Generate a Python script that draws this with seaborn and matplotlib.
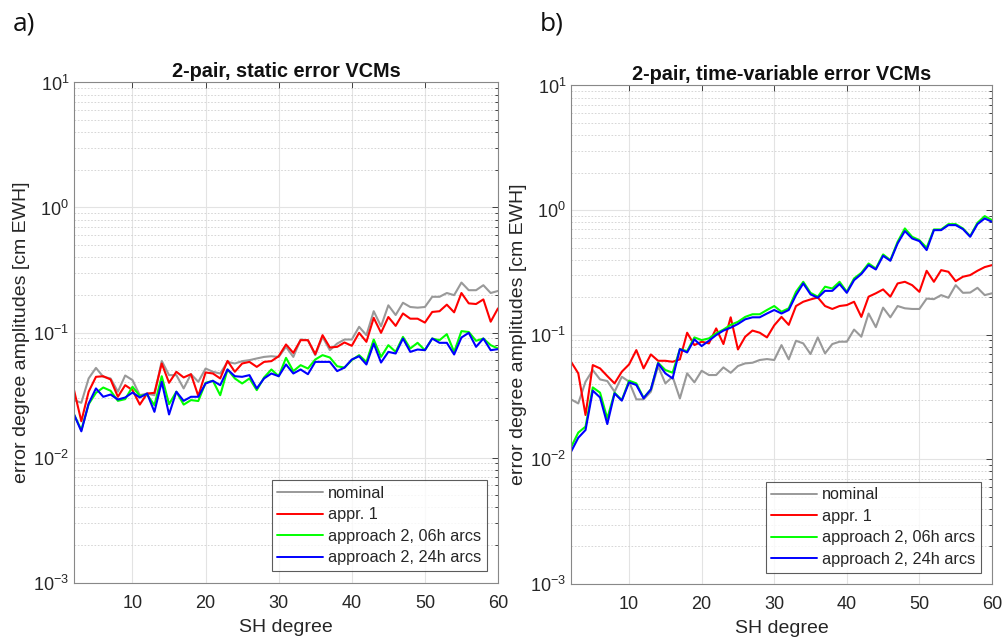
import numpy as np
import pandas as pd
import matplotlib
matplotlib.use("Agg")
import matplotlib.pyplot as plt
import seaborn as sns
from matplotlib.ticker import LogLocator, NullFormatter, FixedLocator

degrees = list(range(2, 61))

# panel a) static error VCMs
static_nominal = [0.0288, 0.0274, 0.0429, 0.0521, 0.0442, 0.0429, 0.0336, 0.0453, 0.0416, 0.0315,
                  0.0325, 0.0315, 0.0593, 0.0456, 0.0456, 0.0357, 0.0464, 0.0403, 0.0515, 0.0485,
                  0.0470, 0.0582, 0.0565, 0.0590, 0.0601, 0.0620, 0.0638, 0.0646, 0.0638, 0.0768,
                  0.0638, 0.0879, 0.0868, 0.0659, 0.0923, 0.0722, 0.0816, 0.0879, 0.0879, 0.111,
                  0.0952, 0.148, 0.112, 0.165, 0.138, 0.173, 0.160, 0.158, 0.160, 0.193,
                  0.193, 0.207, 0.199, 0.251, 0.218, 0.218, 0.239, 0.207, 0.215]
static_appr1 = [0.0346, 0.0195, 0.0336, 0.0442, 0.0447, 0.0421, 0.0306, 0.0379, 0.0346, 0.0265,
                0.0325, 0.0329, 0.0565, 0.0396, 0.0485, 0.0437, 0.0464, 0.0311, 0.0479, 0.0470,
                0.0429, 0.0593, 0.0485, 0.0565, 0.0582, 0.0531, 0.0582, 0.0590, 0.0646, 0.0802,
                0.0687, 0.0868, 0.0868, 0.0671, 0.0952, 0.0759, 0.0768, 0.0832, 0.0783, 0.0994,
                0.0842, 0.131, 0.0994, 0.133, 0.113, 0.142, 0.129, 0.129, 0.120, 0.146,
                0.148, 0.167, 0.145, 0.207, 0.171, 0.169, 0.184, 0.122, 0.156]
static_a2_06h = [0.0221, 0.0166, 0.0267, 0.0329, 0.0363, 0.0342, 0.0284, 0.0293, 0.0368, 0.0311,
                 0.0319, 0.0262, 0.0447, 0.0267, 0.0336, 0.0265, 0.0288, 0.0283, 0.0396, 0.0411,
                 0.0315, 0.0506, 0.0429, 0.0391, 0.0429, 0.0346, 0.0437, 0.0506, 0.0447, 0.0627,
                 0.0491, 0.0548, 0.0515, 0.0608, 0.0659, 0.0631, 0.0537, 0.0524, 0.0601, 0.0659,
                 0.0582, 0.0879, 0.0638, 0.0792, 0.0700, 0.0923, 0.0745, 0.0827, 0.0722, 0.0895,
                 0.0868, 0.0970, 0.0700, 0.1025, 0.101, 0.0858, 0.0895, 0.0792, 0.0745]
static_a2_24h = [0.0221, 0.0162, 0.0270, 0.0357, 0.0306, 0.0319, 0.0291, 0.0302, 0.0331, 0.0302,
                 0.0325, 0.0232, 0.0403, 0.0221, 0.0336, 0.0284, 0.0306, 0.0306, 0.0391, 0.0411,
                 0.0379, 0.0506, 0.0447, 0.0442, 0.0456, 0.0357, 0.0429, 0.0470, 0.0447, 0.0555,
                 0.0470, 0.0506, 0.0464, 0.0582, 0.0582, 0.0582, 0.0491, 0.0524, 0.0608, 0.0646,
                 0.0555, 0.0816, 0.0575, 0.0700, 0.0679, 0.0895, 0.0700, 0.0731, 0.0722, 0.0895,
                 0.0827, 0.0827, 0.0667, 0.0912, 0.0994, 0.0768, 0.0895, 0.0722, 0.0736]

# panel b) time-variable error VCMs
tv_nominal = [0.0303, 0.0281, 0.0420, 0.0520, 0.0438, 0.0425, 0.0349, 0.0460, 0.0420, 0.0303,
              0.0303, 0.0349, 0.0560, 0.0407, 0.0460, 0.0308, 0.0490, 0.0415, 0.0514, 0.0475,
              0.0475, 0.0547, 0.0495, 0.0561, 0.0589, 0.0596, 0.0627, 0.0638, 0.0627, 0.0826,
              0.0634, 0.0895, 0.0852, 0.0700, 0.0952, 0.0708, 0.0842, 0.0879, 0.0879, 0.110,
              0.0964, 0.148, 0.115, 0.165, 0.138, 0.170, 0.163, 0.161, 0.161, 0.195,
              0.193, 0.208, 0.198, 0.250, 0.217, 0.218, 0.238, 0.208, 0.215]
tv_appr1 = [0.0607, 0.0490, 0.0227, 0.0571, 0.0537, 0.0466, 0.0407, 0.0505, 0.0578, 0.0753,
            0.0537, 0.0695, 0.0618, 0.0618, 0.0607, 0.0634, 0.1038, 0.0826, 0.0879, 0.0852,
            0.1124, 0.0842, 0.138, 0.0762, 0.0964, 0.108, 0.1038, 0.0952, 0.119, 0.139,
            0.120, 0.170, 0.184, 0.192, 0.199, 0.170, 0.161, 0.170, 0.173, 0.184,
            0.139, 0.202, 0.215, 0.231, 0.202, 0.258, 0.266, 0.250, 0.221, 0.326,
            0.266, 0.330, 0.320, 0.269, 0.292, 0.301, 0.326, 0.349, 0.362]
tv_a2_06h = [0.0125, 0.0164, 0.0183, 0.0378, 0.0343, 0.0213, 0.0343, 0.0299, 0.0428, 0.0407,
             0.0312, 0.0364, 0.0596, 0.0521, 0.0496, 0.0767, 0.0739, 0.0952, 0.0906, 0.0935,
             0.1025, 0.110, 0.120, 0.127, 0.139, 0.146, 0.146, 0.158, 0.170, 0.153,
             0.163, 0.221, 0.266, 0.217, 0.202, 0.243, 0.235, 0.266, 0.221, 0.283,
             0.314, 0.373, 0.340, 0.441, 0.397, 0.557, 0.713, 0.611, 0.574, 0.499,
             0.700, 0.700, 0.772, 0.772, 0.713, 0.619, 0.791, 0.895, 0.831]
tv_a2_24h = [0.0115, 0.0149, 0.0172, 0.0356, 0.0314, 0.0192, 0.0338, 0.0296, 0.0415, 0.0395,
             0.0309, 0.0364, 0.0589, 0.0490, 0.0446, 0.0767, 0.0721, 0.0918, 0.0811, 0.0895,
             0.0994, 0.108, 0.114, 0.122, 0.133, 0.138, 0.138, 0.148, 0.158, 0.148,
             0.158, 0.208, 0.258, 0.211, 0.198, 0.225, 0.225, 0.255, 0.217, 0.274,
             0.307, 0.362, 0.334, 0.430, 0.392, 0.540, 0.679, 0.592, 0.564, 0.478,
             0.691, 0.691, 0.758, 0.758, 0.704, 0.611, 0.772, 0.857, 0.806]

series_names = ["nominal", "appr. 1", "approach 2, 06h arcs", "approach 2, 24h arcs"]
series_colors = ["#999999", "#ff0000", "#00ff00", "#0000ff"]
titles = ["2-pair, static error VCMs", "2-pair, time-variable error VCMs"]
panel_labels = ["a)", "b)"]
x_ticks = [10, 20, 30, 40, 50, 60]

sns.set_theme(style="white")
plt.rcParams["font.family"] = ["Liberation Sans", "DejaVu Sans"]
plt.rcParams["mathtext.fontset"] = "custom"
plt.rcParams["mathtext.rm"] = "Liberation Sans"
plt.rcParams["mathtext.it"] = "Liberation Sans"

def make_df(vals):
    frames = []
    for name, v in zip(series_names, vals):
        frames.append(pd.DataFrame({"degree": degrees, "value": v, "series": name}))
    return pd.concat(frames, ignore_index=True)

dfs = [make_df([static_nominal, static_appr1, static_a2_06h, static_a2_24h]),
       make_df([tv_nominal, tv_appr1, tv_a2_06h, tv_a2_24h])]

fig = plt.figure(figsize=(10.03, 6.39), dpi=100)
boxes = [[0.0738, 0.0884, 0.4227, 0.7825], [0.5693, 0.0861, 0.4197, 0.7801]]
edge = "#888888"

for i in range(2):
    ax = fig.add_axes(boxes[i])
    sns.lineplot(data=dfs[i], x="degree", y="value", hue="series", hue_order=series_names,
                 palette=series_colors, linewidth=1.5, ax=ax, legend=False, sort=False)
    ax.set_yscale("log")
    ax.set_xlim(2, 60)
    ax.set_ylim(1e-3, 1e1)
    ax.xaxis.set_major_locator(FixedLocator(x_ticks))
    ax.yaxis.set_major_locator(LogLocator(base=10, numticks=10))
    ax.yaxis.set_minor_locator(LogLocator(base=10, subs=np.arange(2, 10), numticks=10))
    ax.yaxis.set_minor_formatter(NullFormatter())
    ax.grid(True, which="major", color="#e3e3e3", linewidth=0.8, linestyle="-")
    ax.grid(True, which="minor", axis="y", color="#d0d0d0", linewidth=0.6, linestyle=(0, (2, 2)))
    ax.set_axisbelow(True)
    ax.tick_params(which="both", direction="in", top=True, right=True, colors="#262626",
                   labelsize=13, length=4, width=0.6)
    ax.tick_params(axis="x", which="major", pad=9)
    ax.tick_params(which="minor", length=2.5)
    for sp in ax.spines.values():
        sp.set_color(edge)
        sp.set_linewidth(0.8)
    ax.set_xlabel("SH degree", fontsize=14, color="#262626", labelpad=5)
    ax.set_ylabel("error degree amplitudes [cm EWH]", fontsize=14, color="#262626", labelpad=2)
    ax.set_title(titles[i], fontsize=14.3, fontweight="bold", color="#111111", pad=4)
    handles = [plt.Line2D([], [], color=c, lw=1.4) for c in series_colors]
    leg = ax.legend(handles, series_names, loc="lower right", fontsize=11.7, handlelength=2.8,
                    handletextpad=0.3, borderpad=0.35, labelspacing=0.4, frameon=True,
                    fancybox=False, borderaxespad=0.7)
    leg.get_frame().set_edgecolor("#333333")
    leg.get_frame().set_linewidth(0.8)
    for t in leg.get_texts():
        t.set_color("#262626")

fig.text(0.013, 0.952, panel_labels[0], fontsize=19, family=["Open Sans", "DejaVu Sans"], color="#111111")
fig.text(0.538, 0.952, panel_labels[1], fontsize=19, family=["Open Sans", "DejaVu Sans"], color="#111111")

fig.savefig("out.png", dpi=100)
